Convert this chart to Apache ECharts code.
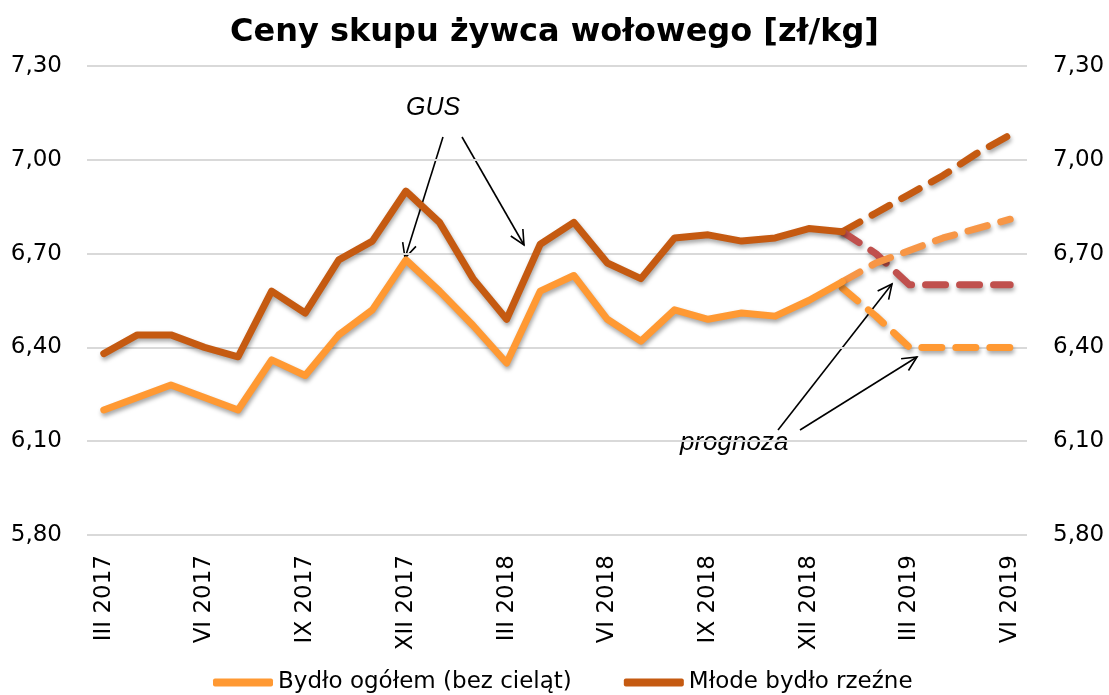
<!DOCTYPE html>
<html>
<head>
<meta charset="utf-8">
<script src="https://cdn.jsdelivr.net/npm/echarts@6/dist/echarts.min.js"></script>
<style>
  html, body { margin: 0; padding: 0; background: #fff; }
  #chart { width: 1109px; height: 695px; }
</style>
</head>
<body>
<div id="chart"></div>
<script>
// miesiące III 2017 - VI 2019
var months = ["III 2017", "IV 2017", "V 2017", "VI 2017", "VII 2017", "VIII 2017", "IX 2017",
    "X 2017", "XI 2017", "XII 2017", "I 2018", "II 2018", "III 2018", "IV 2018", "V 2018",
    "VI 2018", "VII 2018", "VIII 2018", "IX 2018", "X 2018", "XI 2018", "XII 2018",
    "I 2019", "II 2019", "III 2019", "IV 2019", "V 2019", "VI 2019"];

// dane GUS
var bydloOgolem = [6.20, 6.24, 6.28, 6.24, 6.20, 6.36, 6.31, 6.44, 6.52, 6.68, 6.58, 6.47,
    6.35, 6.58, 6.63, 6.49, 6.42, 6.52, 6.49, 6.51, 6.50, 6.55, 6.61];
var mlodeBydlo = [6.38, 6.44, 6.44, 6.40, 6.37, 6.58, 6.51, 6.68, 6.74, 6.90, 6.80, 6.62,
    6.49, 6.73, 6.80, 6.67, 6.62, 6.75, 6.76, 6.74, 6.75, 6.78, 6.77];

// prognozy (od I 2019)
var prognozaStart = 22;
var ogolemGora = [6.61, 6.67, 6.71, 6.75, 6.78, 6.81];
var ogolemDol = [6.59, 6.50, 6.40, 6.40, 6.40, 6.40];
var mlodeGora = [6.77, 6.83, 6.89, 6.95, 7.02, 7.08];
var mlodeDol = [6.77, 6.70, 6.60, 6.60, 6.60, 6.60];

var yTicks = { min: 5.8, max: 7.3, step: 0.3 };

function pad(arr) {
    var out = [];
    for (var i = 0; i < months.length; i++) out.push(i < arr.length ? arr[i] : null);
    return out;
}
function prognoza(arr) {
    var out = [];
    for (var i = 0; i < months.length; i++) {
        var k = i - prognozaStart;
        out.push(k >= 0 && k < arr.length ? arr[k] : null);
    }
    return out;
}

var shadow = { shadowColor: "rgba(0,0,0,0.35)", shadowBlur: 4, shadowOffsetX: 1, shadowOffsetY: 3 };
function lineSeries(name, data, color, dashed) {
    return {
        name: name,
        type: "line",
        data: data,
        symbol: "none",
        connectNulls: false,
        z: dashed ? 3 : 4,
        lineStyle: Object.assign({
            color: color,
            width: 7,
            cap: "round",
            join: "round",
            type: dashed ? [20, 14] : "solid"
        }, shadow),
        itemStyle: { color: color }
    };
}

function arrow(x1, y1, x2, y2) {
    var a = Math.atan2(y2 - y1, x2 - x1), len = 16, sp = 0.45;
    return {
        type: "group",
        children: [
            { type: "line", shape: { x1: x1, y1: y1, x2: x2, y2: y2 },
              style: { stroke: "#000", lineWidth: 1.6 } },
            { type: "polyline", shape: { points: [
                [x2 - len * Math.cos(a - sp), y2 - len * Math.sin(a - sp)],
                [x2, y2],
                [x2 - len * Math.cos(a + sp), y2 - len * Math.sin(a + sp)]
              ] },
              style: { stroke: "#000", lineWidth: 1.6, fill: null } }
        ]
    };
}

var axisFont = { fontFamily: "DejaVu Sans", fontSize: 23, color: "#000" };
function fmt(v) { return v.toFixed(2).replace(".", ","); }

var option = {
    animation: false,
    backgroundColor: "#fff",
    title: {
        text: "Ceny skupu żywca wołowego [zł/kg]",
        left: "center",
        top: 12,
        textStyle: { fontFamily: "DejaVu Sans", fontWeight: "bold", fontSize: 32, color: "#000" }
    },
    legend: {
        data: ["Bydło ogółem (bez cieląt)", "Młode bydło rzeźne"],
        top: 666,
        left: 208,
        icon: "roundRect",
        itemWidth: 60,
        itemHeight: 8,
        itemGap: 52,
        textStyle: { fontFamily: "DejaVu Sans", fontSize: 23, color: "#000" }
    },
    grid: { left: 87, right: 82, top: 66, bottom: 160 },
    xAxis: {
        type: "category",
        data: months,
        boundaryGap: true,
        axisLine: { show: false },
        axisTick: { show: false },
        axisLabel: Object.assign({ rotate: 90, interval: 2, margin: 20 }, axisFont)
    },
    yAxis: [
        {
            type: "value",
            min: yTicks.min, max: yTicks.max, interval: yTicks.step,
            axisLine: { show: false }, axisTick: { show: false },
            axisLabel: Object.assign({ formatter: fmt, margin: 25 }, axisFont),
            splitLine: { lineStyle: { color: "#d9d9d9", width: 2 } }
        },
        {
            type: "value", position: "right",
            min: yTicks.min, max: yTicks.max, interval: yTicks.step,
            axisLine: { show: false }, axisTick: { show: false },
            axisLabel: Object.assign({ formatter: fmt, margin: 26 }, axisFont),
            splitLine: { show: false }
        }
    ],
    series: [
        lineSeries("Bydło ogółem (bez cieląt)", pad(bydloOgolem), "#ff9933", false),
        lineSeries("Młode bydło rzeźne", pad(mlodeBydlo), "#c55a11", false),
        lineSeries("prognoza mł. wzrost", prognoza(mlodeGora), "#c55a11", true),
        lineSeries("prognoza mł. spadek", prognoza(mlodeDol), "#c0504d", true),
        lineSeries("prognoza og. wzrost", prognoza(ogolemGora), "#f79646", true),
        lineSeries("prognoza og. spadek", prognoza(ogolemDol), "#ff9933", true)
    ],
    graphic: [
        { type: "text", left: 406, top: 96,
          style: { text: "GUS", fontFamily: "Liberation Sans", fontStyle: "italic", fontSize: 25, fill: "#000" } },
        { type: "text", left: 680, top: 430,
          style: { text: "prognoza", fontFamily: "Liberation Sans", fontStyle: "italic", fontSize: 26, fill: "#000" } },
        arrow(443, 137, 405, 258),
        arrow(462, 137, 524, 245),
        arrow(778, 430, 892, 284),
        arrow(800, 430, 917, 357)
    ]
};

var chart = echarts.init(document.getElementById("chart"));
chart.setOption(option);
</script>
</body>
</html>
